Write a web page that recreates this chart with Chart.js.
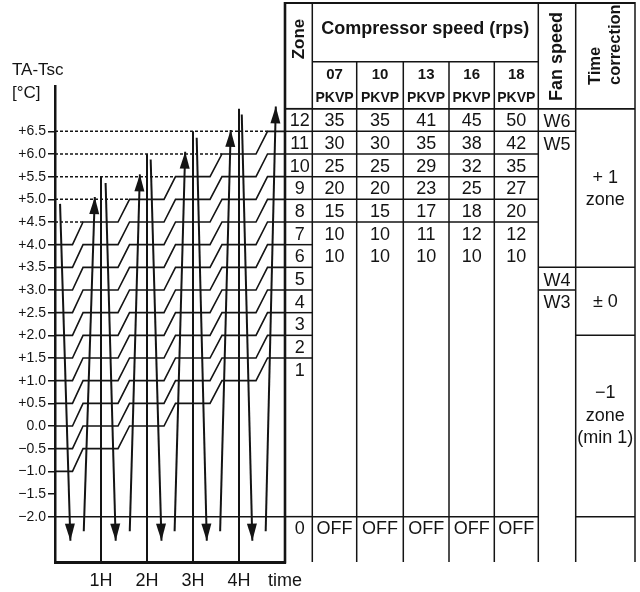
<!DOCTYPE html>
<html><head><meta charset="utf-8">
<script src="https://cdn.jsdelivr.net/npm/chart.js@4/dist/chart.umd.min.js"></script>
<style>html,body{margin:0;padding:0;background:#fff}canvas{display:block}</style>
</head><body>
<canvas id="c" width="640" height="592"></canvas>
<script>
// ---------------- data: left diagram ----------------
const hourTickValues = [1, 2, 3, 4, 5];
const hourTickLabels = ['1H', '2H', '3H', '4H', 'time'];
const hourMarks = [1, 2, 3, 4];
const hourMarkTops = [5.5, 6.0, 6.5, 7.0];
const yTickLevels = [-2.0, -1.5, -1.0, -0.5, 0.0, 0.5, 1.0, 1.5, 2.0, 2.5, 3.0, 3.5, 4.0, 4.5, 5.0, 5.5, 6.0, 6.5];
const stairStartLevels = [-1.0, -0.5, 0.0, 0.5, 1.0, 1.5, 2.0, 2.5, 3.0, 3.5, 4.0];
const riseStartHours = [0.38, 1.37, 2.37, 3.37, 4.37];
const riseEndHours = [0.61, 1.62, 2.62, 3.63, 4.62];
const riseStep = 0.5;
const dottedLevels = [4.5, 5.0, 5.5, 6.0, 6.5];
const offLevel = -2.0;
const downStartHours = [0.11, 1.10, 2.08, 3.08, 4.06];
const downStartLevels = [4.90, 5.36, 5.88, 6.36, 6.87];
const downEndHours = [0.335, 1.32, 2.315, 3.30, 4.29];
const downEndLevel = -2.53;
const upStartHours = [0.625, 1.625, 2.60, 3.59, 4.58];
const upStartLevel = -2.32;
const upEndHours = [0.865, 1.845, 2.83, 3.82, 4.80];
const upEndLevels = [5.05, 5.55, 6.05, 6.53, 7.05];
const yTitle = ['TA-Tsc', '[°C]'];

// ---------------- data: table ----------------
const zoneNumbers = [12, 11, 10, 9, 8, 7, 6, 5, 4, 3, 2, 1, 0];
const zoneTopLevels = [7.0, 6.5, 6.0, 5.5, 5.0, 4.5, 4.0, 3.5, 3.0, 2.5, 2.0, 1.5, -2.0];
const zoneBottomLevels = [6.5, 6.0, 5.5, 5.0, 4.5, 4.0, 3.5, 3.0, 2.5, 2.0, 1.5, -2.0, -3.0];
const modelNames = ['07', '10', '13', '16', '18'];
const modelSuffix = 'PKVP';
const speedZones = [12, 11, 10, 9, 8, 7, 6];
const speed07 = [35, 30, 25, 20, 15, 10, 10];
const speed10 = [35, 30, 25, 20, 15, 10, 10];
const speed13 = [41, 35, 29, 23, 17, 11, 10];
const speed16 = [45, 38, 32, 25, 18, 12, 10];
const speed18 = [50, 42, 35, 27, 20, 12, 10];
const offLabel = 'OFF';
const compressorRuleZones = [12, 11, 10, 9, 8, 7, 0];
const fanLabels = ['W6', 'W5', 'W4', 'W3'];
const fanFromZone = [12, 11, 5, 4];
const timeLabels = [['+ 1', 'zone'], ['± 0'], ['\u22121', 'zone', '(min 1)'], []];
const timeFromZone = [12, 5, 2, 0];
const timeTextLevels = [5.25, 2.75, 0.25, -2.5];
const headers = {zone: 'Zone', compressor: 'Compressor speed (rps)', fan: 'Fan speed', time: ['Time', 'correction']};

// ---------------- layout / style ----------------
const ink = '#141414';
const fam = '"Liberation Sans", Arial, Helvetica, sans-serif';
const colWidths = [27.3, 44.4, 46.6, 45.7, 45.3, 44, 37.4, 59.3];
const headerTopPx = 3, compSplitPx = 61.7;

// ---------------- datasets ----------------
const datasets = [];
function lineDs(points, opts) {
  return Object.assign({data: points, showLine: true, borderColor: ink, borderWidth: 1.6, pointRadius: 0, fill: false, tension: 0}, opts || {});
}
// staircases
stairStartLevels.forEach(s => {
  const pts = [{x: 0, y: s}];
  let lv = s;
  riseStartHours.forEach((h, k) => {
    pts.push({x: h, y: lv});
    lv += riseStep;
    pts.push({x: riseEndHours[k], y: lv});
  });
  pts.push({x: 5, y: lv});
  datasets.push(lineDs(pts));
});
// dotted reference lines
dottedLevels.forEach((lv, k) => {
  datasets.push(lineDs([{x: 0, y: lv}, {x: riseEndHours[k], y: lv}], {borderDash: [3, 2], borderWidth: 1.5}));
});
// OFF threshold line
datasets.push(lineDs([{x: 0, y: offLevel}, {x: 5, y: offLevel}], {borderWidth: 1.5}));
// hour marks
hourMarks.forEach((h, k) => {
  datasets.push(lineDs([{x: h, y: -3}, {x: h, y: hourMarkTops[k]}], {borderWidth: 2}));
});
// arrows
downStartHours.forEach((h, k) => {
  datasets.push(lineDs([{x: h, y: downStartLevels[k]}, {x: downEndHours[k], y: downEndLevel}], {borderWidth: 2, arrow: true}));
});
upStartHours.forEach((h, k) => {
  datasets.push(lineDs([{x: h, y: upStartLevel}, {x: upEndHours[k], y: upEndLevels[k]}], {borderWidth: 2, arrow: true}));
});

// ---------------- plugins ----------------
const arrowHeads = {
  id: 'arrowHeads',
  afterDatasetsDraw(chart) {
    const ctx = chart.ctx;
    chart.data.datasets.forEach((ds, i) => {
      if (!ds.arrow) return;
      const pts = chart.getDatasetMeta(i).data;
      const a = pts[pts.length - 2], b = pts[pts.length - 1];
      const ang = Math.atan2(b.y - a.y, b.x - a.x);
      const L = 17, W = 5;
      const c = Math.cos(ang), s = Math.sin(ang);
      ctx.save();
      ctx.fillStyle = ink;
      ctx.beginPath();
      ctx.moveTo(b.x, b.y);
      ctx.lineTo(b.x - L * c + W * s, b.y - L * s - W * c);
      ctx.lineTo(b.x - L * c - W * s, b.y - L * s + W * c);
      ctx.closePath();
      ctx.fill();
      ctx.restore();
    });
  }
};

const tablePlugin = {
  id: 'table',
  afterDraw(chart) {
    const ctx = chart.ctx, xs = chart.scales.x, ys = chart.scales.y;
    const Y = v => ys.getPixelForValue(v);
    const edges = [xs.right];
    colWidths.forEach(w => edges.push(edges[edges.length - 1] + w));
    const top = headerTopPx, bottom = ys.bottom, hdrBottom = Y(zoneTopLevels[0]);
    const zTop = z => zoneTopLevels[zoneNumbers.indexOf(z)];
    ctx.save();
    ctx.strokeStyle = ink;
    ctx.fillStyle = ink;
    ctx.lineCap = 'butt';
    const hline = (x0, x1, y, w) => { ctx.lineWidth = w || 1.5; ctx.beginPath(); ctx.moveTo(x0, y); ctx.lineTo(x1, y); ctx.stroke(); };
    const vline = (x, y0, y1, w) => { ctx.lineWidth = w || 1.5; ctx.beginPath(); ctx.moveTo(x, y0); ctx.lineTo(x, y1); ctx.stroke(); };

    // outer / header lines
    hline(edges[0], edges[8], top, 2);
    hline(edges[0], edges[8], hdrBottom, 1.5);
    hline(edges[1], edges[6], compSplitPx, 1.5);
    // zone column rules
    zoneTopLevels.forEach(lv => hline(edges[0], edges[1], Y(lv)));
    // compressor rules
    compressorRuleZones.forEach(z => hline(edges[1], edges[6], Y(zTop(z))));
    // fan rules
    fanFromZone.forEach(z => hline(edges[6], edges[7], Y(zTop(z))));
    // time rules
    timeFromZone.forEach(z => hline(edges[7], edges[8], Y(zTop(z))));
    // verticals
    vline(edges[0], top - 1, bottom + 1.5, 2.6);
    vline(edges[1], top, bottom);
    for (let i = 2; i <= 5; i++) vline(edges[i], compSplitPx, bottom);
    vline(edges[6], top, bottom);
    vline(edges[7], top, bottom);
    vline(edges[8], top - 1, bottom, 1.5);

    const cx = i => (edges[i] + edges[i + 1]) / 2;
    const text = (t, x, y, font, align) => { ctx.font = font; ctx.textAlign = align || 'center'; ctx.textBaseline = 'middle'; ctx.fillText(t, x, y); };
    const body = '18px ' + fam;

    // headers
    const rot = (lines, x0, y0, font, dx) => {
      ctx.save(); ctx.font = font; ctx.textAlign = 'left'; ctx.textBaseline = 'middle';
      lines.forEach((t, i) => { ctx.save(); ctx.translate(x0 + i * dx, y0); ctx.rotate(-Math.PI / 2); ctx.fillText(t, 0, 0); ctx.restore(); });
      ctx.restore();
    };
    ctx.save(); ctx.font = 'bold 17px ' + fam; const zw = ctx.measureText(headers.zone).width; ctx.restore();
    rot([headers.zone], cx(0) + 0.5, 39 + zw / 2, 'bold 17px ' + fam, 0);
    text(headers.compressor, (edges[1] + edges[6]) / 2, 29, 'bold 18px ' + fam);
    modelNames.forEach((m, i) => {
      text(m, cx(i + 1), 75, 'bold 15px ' + fam);
      text(modelSuffix, cx(i + 1), 98, 'bold 14px ' + fam);
    });
    rot([headers.fan], cx(6) + 0.5, 101, 'bold 18px ' + fam, 0);
    rot(headers.time, edges[7] + 20, 85, 'bold 16.5px ' + fam, 20);

    // zone numbers
    zoneNumbers.forEach((z, i) => text(String(z), cx(0) + 1, Y(zoneTopLevels[i] - 0.25) + 1.5, body));
    // speeds
    const speeds = [speed07, speed10, speed13, speed16, speed18];
    speeds.forEach((arr, c) => {
      arr.forEach((v, r) => text(String(v), cx(c + 1), Y(zTop(speedZones[r]) - 0.25) + 1.5, body));
      text(offLabel, cx(c + 1), Y(zTop(0) - 0.25) + 1.5, body);
    });
    // fan
    fanLabels.forEach((f, i) => text(f, cx(6), Y(zTop(fanFromZone[i]) - 0.25) + 2, body));
    // time correction
    timeLabels.forEach((lines, i) => {
      const yc = Y(timeTextLevels[i]);
      lines.forEach((t, j) => text(t, cx(7), yc + (j - (lines.length - 1) / 2) * 22.5 + 1, body));
    });

    // y axis title
    text(yTitle[0], 12, 70, '17px ' + fam, 'left');
    text(yTitle[1], 12, 93, '17px ' + fam, 'left');
    ctx.restore();
  }
};

const fmt = v => {
  const a = Math.abs(v).toFixed(1);
  if (Math.abs(v) < 1e-9) return '0.0';
  return (v > 0 ? '+' : '\u2212') + a;
};

new Chart(document.getElementById('c').getContext('2d'), {
  type: 'scatter',
  data: {datasets},
  options: {
    responsive: false,
    animation: false,
    devicePixelRatio: 1,
    layout: {padding: {left: 0, right: 355, top: 86, bottom: 0}},
    plugins: {legend: {display: false}, tooltip: {enabled: false}},
    elements: {point: {radius: 0}, line: {tension: 0}},
    scales: {
      x: {
        type: 'linear', min: 0, max: 5,
        afterBuildTicks: s => { s.ticks = hourTickValues.map(v => ({value: v})); },
        afterFit: s => { s.height = 30; },
        grid: {display: false, drawTicks: false, tickLength: 0},
        border: {display: true, width: 3, color: ink},
        ticks: {
          callback: v => { const i = hourTickValues.indexOf(v); return i >= 0 ? hourTickLabels[i] : ''; },
          font: {size: 18, family: fam}, color: ink, padding: 8, maxRotation: 0, autoSkip: false
        }
      },
      y: {
        type: 'linear', min: -3, max: 7.5,
        afterBuildTicks: s => { s.ticks = yTickLevels.map(v => ({value: v})); },
        afterFit: s => { s.width = 55; },
        grid: {drawOnChartArea: false, drawTicks: true, tickLength: 7, lineWidth: 1.5, color: ink},
        border: {display: true, width: 2.5, color: ink},
        ticks: {callback: fmt, font: {size: 14, family: fam}, color: ink, padding: 2, autoSkip: false}
      }
    }
  },
  plugins: [arrowHeads, tablePlugin]
});
</script>
</body></html>
